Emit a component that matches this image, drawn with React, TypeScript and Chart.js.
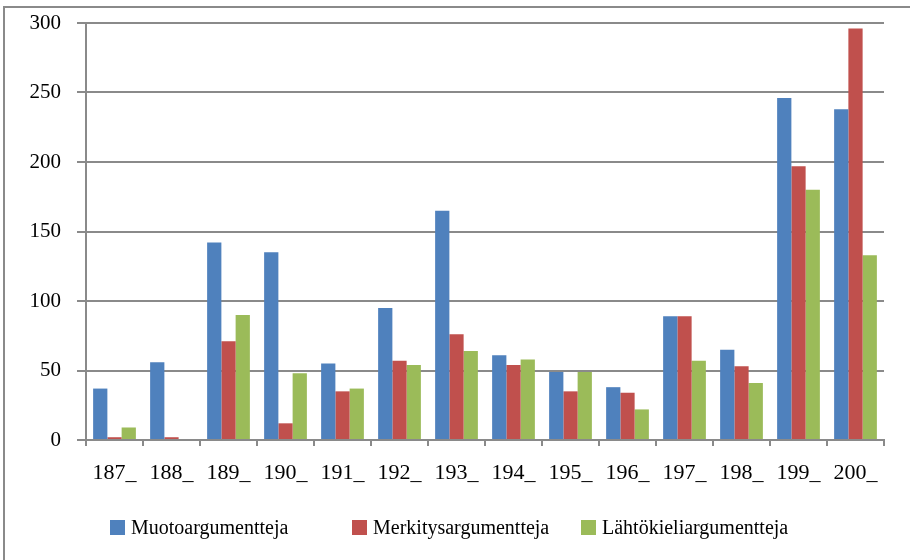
import React, { useEffect, useRef } from "react";
import { Chart, registerables } from "chart.js";

Chart.register(...registerables);

const categories = ["187_", "188_", "189_", "190_", "191_", "192_", "193_", "194_", "195_", "196_", "197_", "198_", "199_", "200_"];
const seriesNames = ["Muotoargumentteja", "Merkitysargumentteja", "Lähtökieliargumentteja"];
const muoto = [37, 56, 142, 135, 55, 95, 165, 61, 49, 38, 89, 65, 246, 238];
const merkitys = [2, 2, 71, 12, 35, 57, 76, 54, 35, 34, 89, 53, 197, 296];
const lahtokieli = [9, 0, 90, 48, 37, 54, 64, 58, 49, 22, 57, 41, 180, 133];
const yTicks = [0, 50, 100, 150, 200, 250, 300];
const colors = ["#4F81BD", "#C0504D", "#9BBB59"];

const FONT = "'Liberation Serif', 'Times New Roman', serif";
const GRID = "#8a8a8a";

export default function App() {
  const ref = useRef<HTMLCanvasElement | null>(null);

  useEffect(() => {
    if (!ref.current) return;
    const values = [muoto, merkitys, lahtokieli];
    const chart = new Chart(ref.current, {
      type: "bar",
      data: {
        labels: categories,
        datasets: seriesNames.map((name, i) => ({
          label: name,
          data: values[i],
          backgroundColor: colors[i],
          borderWidth: 0,
          categoryPercentage: 0.75,
          barPercentage: 1.0,
        })),
      },
      options: {
        responsive: false,
        animation: false,
        devicePixelRatio: 1,
        layout: { padding: { top: 23, right: 26, left: 0, bottom: 0 } },
        plugins: { legend: { display: false }, tooltip: { enabled: false } },
        scales: {
          x: {
            offset: true,
            grid: {
              display: true,
              offset: true,
              drawOnChartArea: false,
              drawTicks: true,
              tickLength: 6,
              color: GRID,
              lineWidth: 2,
            },
            border: { display: true, color: GRID, width: 2 },
            ticks: {
              color: "#000",
              font: { family: FONT, size: 22 },
              padding: 14,
              maxRotation: 0,
              autoSkip: false,
            },
            afterFit: (scale: any) => {
              scale.height = 120;
              scale.paddingLeft = 0;
              scale.paddingRight = 0;
            },
          },
          y: {
            min: 0,
            max: 300,
            afterBuildTicks: (scale: any) => {
              scale.ticks = yTicks.map((v) => ({ value: v }));
            },
            grid: {
              display: true,
              drawTicks: true,
              tickLength: 9,
              color: GRID,
              lineWidth: 2,
            },
            border: { display: true, color: GRID, width: 2 },
            ticks: {
              color: "#000",
              font: { family: FONT, size: 21 },
              padding: 16,
            },
            afterFit: (scale: any) => {
              scale.width = 86;
              scale.paddingTop = 0;
              scale.paddingBottom = 0;
            },
          },
        },
      },
    });
    return () => chart.destroy();
  }, []);

  const legendLeft = [110, 352, 581];

  return (
    <div
      style={{
        position: "absolute",
        left: 0,
        top: 0,
        width: 910,
        height: 560,
        overflow: "hidden",
        background: "#fff",
      }}
    >
      <div
        style={{
          position: "absolute",
          left: 3,
          top: 6,
          width: 960,
          height: 620,
          border: "2px solid #8a8a8a",
          boxSizing: "border-box",
        }}
      />
      <canvas ref={ref} width={910} height={560} style={{ position: "absolute", left: 0, top: 0, width: 910, height: 560 }} />
      {seriesNames.map((name, i) => (
        <div
          key={name}
          style={{
            position: "absolute",
            left: legendLeft[i],
            top: 515,
            height: 24,
            display: "flex",
            alignItems: "center",
            fontFamily: FONT,
            fontSize: 20,
            color: "#000",
            whiteSpace: "nowrap",
          }}
        >
          <span style={{ display: "inline-block", width: 15, height: 15, background: colors[i], marginRight: 6 }} />
          <span>{name}</span>
        </div>
      ))}
    </div>
  );
}
